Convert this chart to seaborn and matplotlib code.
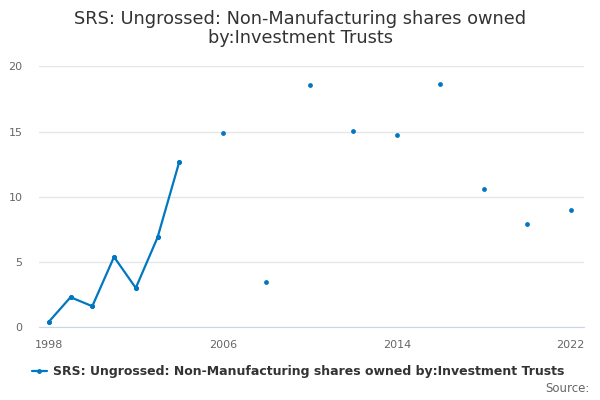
import numpy as np
import pandas as pd
import matplotlib
matplotlib.use('Agg')
import matplotlib.pyplot as plt
import seaborn as sns

years = [1998, 1999, 2000, 2001, 2002, 2003, 2004, 2006, 2008, 2010, 2012, 2014, 2016, 2018, 2020, 2022]
values = [0.41, 2.3, 1.61, 5.39, 3.01, 6.88, 12.68, 14.88, 3.5, 18.56, 15.08, 14.77, 18.66, 10.58, 7.9, 9.0]
series_name = 'SRS: Ungrossed: Non-Manufacturing shares owned by:Investment Trusts'
title = 'SRS: Ungrossed: Non-Manufacturing shares owned\nby:Investment Trusts'

df = pd.DataFrame({'Year': years, 'Value': values})
# consecutive annual run is joined by a line, the rest are lone points
joined = df[df['Year'] <= 2004]

sns.set_style('white')
plt.rcParams['font.family'] = ['DejaVu Sans']
blue = '#0077c0'

fig = plt.figure(figsize=(6, 4), dpi=100)
ax = fig.add_axes([0.065, 0.182, 0.908, 0.652])

sns.lineplot(data=joined, x='Year', y='Value', color=blue, linewidth=1.6, ax=ax,
             marker='o', markersize=3.5, markeredgewidth=0, label=series_name)
sns.scatterplot(data=df, x='Year', y='Value', color=blue, s=12, linewidth=0, ax=ax, legend=False)

ax.set_xlim(1997.55, 2022.6)
ax.set_ylim(0, 20)
ax.set_yticks([0, 5, 10, 15, 20])
ax.set_xticks(np.arange(1998, 2023, 2))
ax.set_xticklabels([str(y) if y in (1998, 2006, 2014, 2022) else '' for y in range(1998, 2023, 2)])
ax.yaxis.grid(True, color='#e6e6e6', linewidth=1)
ax.set_xlabel('')
ax.set_ylabel('')
for s in ['top', 'right', 'left']:
    ax.spines[s].set_visible(False)
ax.spines['bottom'].set_color('#ccd6eb')
ax.tick_params(axis='x', colors='#ccd6eb', length=8, width=1, labelcolor='#666666', labelsize=8, pad=1)
ax.tick_params(axis='y', length=0, labelcolor='#666666', labelsize=8, pad=12)

fig.suptitle(title, x=0.5, y=0.975, fontsize=12.8, color='#333333', va='top', linespacing=1.1)

leg = ax.legend(loc='upper center', bbox_to_anchor=(0.497, 0.115), bbox_transform=fig.transFigure,
                frameon=False, prop={'weight': 'bold', 'size': 9}, handlelength=1.2, handletextpad=0.5)
for t in leg.get_texts():
    t.set_color('#333333')

fig.text(0.982, 0.012, 'Source:', ha='right', va='bottom', fontsize=8.5, color='#666666')

fig.savefig('out.png', dpi=100)
